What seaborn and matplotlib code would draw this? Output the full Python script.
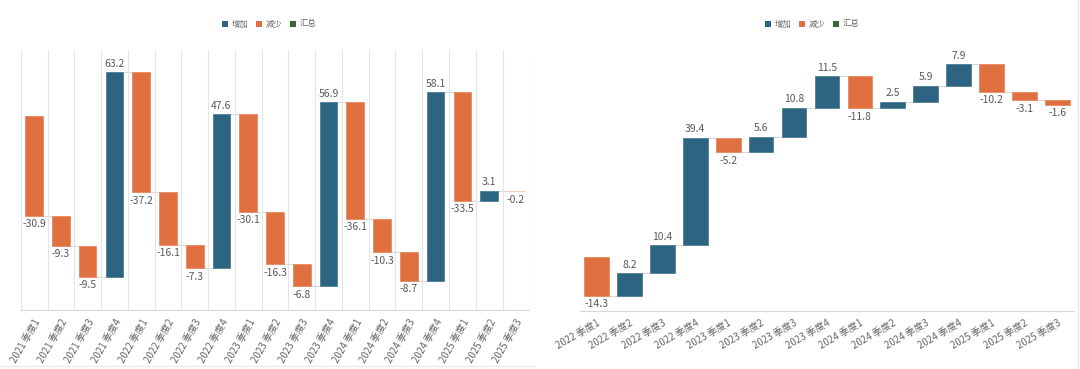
import matplotlib

matplotlib.use("Agg")
import matplotlib.pyplot as plt
import numpy as np
import pandas as pd
import seaborn as sns
from matplotlib.lines import Line2D
from matplotlib.patches import Patch

# data
left_quarters = [
    "2021 季度1", "2021 季度2", "2021 季度3", "2021 季度4",
    "2022 季度1", "2022 季度2", "2022 季度3", "2022 季度4",
    "2023 季度1", "2023 季度2", "2023 季度3", "2023 季度4",
    "2024 季度1", "2024 季度2", "2024 季度3", "2024 季度4",
    "2025 季度1", "2025 季度2", "2025 季度3",
]
left_changes = [
    -30.9, -9.3, -9.5, 63.2,
    -37.2, -16.1, -7.3, 47.6,
    -30.1, -16.3, -6.8, 56.9,
    -36.1, -10.3, -8.7, 58.1,
    -33.5, 3.1, -0.2,
]

right_quarters = [
    "2022 季度1", "2022 季度2", "2022 季度3", "2022 季度4",
    "2023 季度1", "2023 季度2", "2023 季度3", "2023 季度4",
    "2024 季度1", "2024 季度2", "2024 季度3", "2024 季度4",
    "2025 季度1", "2025 季度2", "2025 季度3",
]
right_changes = [
    -14.3, 8.2, 10.4, 39.4,
    -5.2, 5.6, 10.8, 11.5,
    -11.8, 2.5, 5.9, 7.9,
    -10.2, -3.1, -1.6,
]

legend_labels = ["增加", "减少", "汇总"]

up_color = "#2c6482"
down_color = "#e07040"
total_color = "#2e6b37"
value_color = "#595959"
tick_color = "#666666"
line_color = "#d9d9d9"
grid_color = "#e4e4e4"

sns.set_theme(style="white")
plt.rcParams["font.family"] = ["Noto Sans CJK SC", "DejaVu Sans"]


def waterfall(ax, quarters, changes, bar_width, rotation, ylim, vgrid):
    changes = np.asarray(changes, dtype=float)
    end = np.cumsum(changes)
    start = end - changes
    df = pd.DataFrame(
        {
            "quarter": quarters,
            "height": np.abs(changes),
            "bottom": np.minimum(start, end),
        }
    )
    sns.barplot(
        data=df,
        x="quarter",
        y="height",
        bottom=df["bottom"].to_numpy(),
        width=bar_width,
        color=up_color,
        errorbar=None,
        ax=ax,
    )
    bars = list(ax.patches)
    for bar, d in zip(bars, changes):
        c = up_color if d >= 0 else down_color
        bar.set_facecolor(c)
        bar.set_edgecolor(c)
        bar.set_linewidth(0.4)
        if abs(d) < 1:
            bar.set_alpha(0.6)

    # connectors between bars
    for i in range(len(bars) - 1):
        x0 = bars[i].get_x() + bars[i].get_width()
        x1 = bars[i + 1].get_x()
        ax.plot([x0, x1], [end[i], end[i]], color=line_color, lw=0.8, zorder=0)

    # value labels
    for bar, d, s, e in zip(bars, changes, start, end):
        xc = bar.get_x() + bar.get_width() / 2
        if d >= 0:
            ax.annotate(f"{d:.1f}", (xc, max(s, e)), xytext=(0, 2.5),
                        textcoords="offset points", ha="center", va="bottom",
                        fontsize=7.5, color=value_color)
        else:
            ax.annotate(f"{d:.1f}", (xc, min(s, e)), xytext=(0, -2.5),
                        textcoords="offset points", ha="center", va="top",
                        fontsize=7.5, color=value_color)

    n = len(quarters)
    ax.set_xlim(-0.5, n - 0.5)
    ax.set_ylim(*ylim)
    ax.set_yticks([])
    ax.set_xlabel("")
    ax.set_ylabel("")
    ax.tick_params(axis="x", which="both", length=0, pad=5, labelsize=7,
                   labelcolor=tick_color)
    for lab in ax.get_xticklabels():
        lab.set_rotation(rotation)
        lab.set_ha("right")
        lab.set_rotation_mode("anchor")
    if vgrid:
        ax.set_xticks(np.arange(-0.5, n), minor=True)
        ax.grid(which="minor", axis="x", color=grid_color, lw=0.8)
        ax.set_axisbelow(True)
    for side in ["top", "left", "right"]:
        ax.spines[side].set_visible(False)
    ax.spines["bottom"].set_color(line_color)
    ax.spines["bottom"].set_linewidth(0.8)


fig = plt.figure(figsize=(10.8, 3.69), dpi=100)
ax1 = fig.add_axes([0.0192, 0.1599, 0.4709, 0.7046])
ax2 = fig.add_axes([0.537, 0.157, 0.4574, 0.707])

waterfall(ax1, left_quarters, left_changes, 0.66, 60, (-60, 20.3), True)
waterfall(ax2, right_quarters, right_changes, 0.75, 30, (-20, 76), False)

handles = [Patch(facecolor=c, edgecolor="none") for c in [up_color, down_color, total_color]]
for cx in [0.249, 0.752]:
    fig.legend(
        handles,
        legend_labels,
        loc="center",
        bbox_to_anchor=(cx, 0.935),
        ncol=3,
        frameon=False,
        fontsize=6,
        handlelength=0.75,
        handleheight=0.75,
        handletextpad=0.4,
        columnspacing=0.9,
        labelcolor=tick_color,
    )

# faint card edges
fig.add_artist(Line2D([1078 / 1080] * 2, [0, 1], transform=fig.transFigure,
                      color="#e8e8e8", lw=1))
fig.add_artist(Line2D([0, 535 / 1080], [3 / 369] * 2, transform=fig.transFigure,
                      color="#ececec", lw=1))

fig.savefig("out.png", dpi=100)
plt.close(fig)
